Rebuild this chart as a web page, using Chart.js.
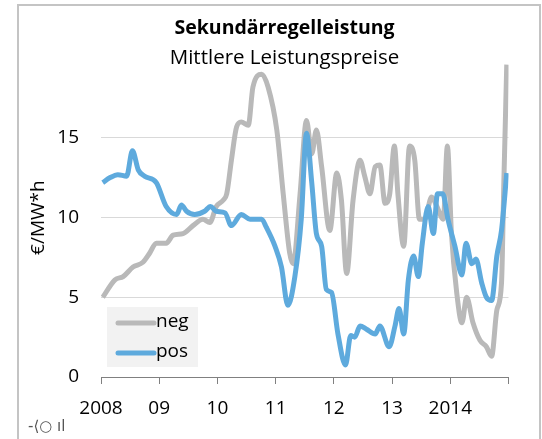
<!DOCTYPE html>
<html>
<head>
<meta charset="utf-8">
<script src="https://cdn.jsdelivr.net/npm/chart.js@4"></script>
<style>
  html, body { margin: 0; padding: 0; background: #fff; }
  #wrap { width: 542px; height: 439px; }
</style>
</head>
<body>
<div id="wrap"><canvas id="chart" width="542" height="439"></canvas></div>
<script>
// Daten
const jahrLabels = ["2008", "09", "10", "11", "12", "13", "2014", ""];

const negZeit = [2008.03, 2008.24, 2008.38, 2008.55, 2008.72, 2008.84, 2008.95, 2009.12, 2009.24, 2009.41,
  2009.58, 2009.75, 2009.87, 2009.98, 2010.10, 2010.16, 2010.24, 2010.33, 2010.41, 2010.53,
  2010.61, 2010.76, 2010.87, 2011.02, 2011.13, 2011.24, 2011.30, 2011.42, 2011.53, 2011.62,
  2011.70, 2011.79, 2011.93, 2012.05, 2012.13, 2012.22, 2012.33, 2012.45, 2012.53, 2012.62,
  2012.71, 2012.79, 2012.88, 2012.96, 2013.04, 2013.10, 2013.20, 2013.30, 2013.39, 2013.47,
  2013.56, 2013.68, 2013.77, 2013.88, 2013.95, 2014.02, 2014.11, 2014.20, 2014.28, 2014.39,
  2014.51, 2014.62, 2014.71, 2014.80, 2014.88, 2014.92, 2014.97];
const negWerte = [5.0, 6.1, 6.3, 6.9, 7.2, 7.8, 8.4, 8.4, 8.9, 9.0,
  9.5, 9.9, 9.7, 10.7, 11.1, 11.5, 13.6, 15.7, 16.0, 15.8,
  18.2, 19.0, 18.2, 15.5, 11.5, 7.8, 7.1, 11.5, 16.1, 14.0,
  15.5, 13.2, 9.2, 12.8, 11.1, 6.5, 11.1, 13.6, 12.6, 11.5,
  13.2, 13.3, 10.9, 11.5, 14.5, 11.5, 8.2, 14.5, 13.6, 9.9,
  9.9, 11.3, 10.7, 9.9, 14.5, 9.0, 5.3, 3.4, 5.0, 3.4,
  2.3, 1.9, 1.3, 4.2, 5.9, 12.2, 19.6];

const posZeit = [2008.03, 2008.15, 2008.29, 2008.44, 2008.54, 2008.64, 2008.75, 2008.95, 2009.12, 2009.30,
  2009.38, 2009.47, 2009.61, 2009.78, 2009.88, 2009.98, 2010.13, 2010.24, 2010.41, 2010.56,
  2010.76, 2010.84, 2010.99, 2011.10, 2011.21, 2011.33, 2011.44, 2011.53, 2011.62, 2011.70,
  2011.79, 2011.87, 2011.96, 2012.07, 2012.20, 2012.29, 2012.36, 2012.45, 2012.56, 2012.71,
  2012.79, 2012.95, 2013.05, 2013.12, 2013.20, 2013.28, 2013.37, 2013.45, 2013.52, 2013.62,
  2013.71, 2013.78, 2013.87, 2013.96, 2014.08, 2014.20, 2014.27, 2014.37, 2014.44, 2014.54,
  2014.62, 2014.71, 2014.80, 2014.88, 2014.97];
const posWerte = [12.2, 12.5, 12.7, 12.6, 14.2, 13.0, 12.6, 12.2, 10.7, 10.2,
  10.8, 10.4, 10.2, 10.4, 10.7, 10.4, 10.3, 9.5, 10.2, 9.9,
  9.9, 9.4, 8.2, 6.9, 4.5, 6.3, 9.9, 15.3, 12.2, 9.0,
  8.2, 5.5, 5.3, 2.7, 0.75, 2.6, 2.5, 3.2, 3.0, 2.7,
  3.2, 1.9, 3.2, 4.3, 2.7, 6.1, 7.6, 6.3, 8.4, 10.7,
  9.0, 11.5, 11.5, 9.9, 8.2, 6.4, 8.4, 7.1, 7.4, 5.9,
  5.0, 4.8, 7.6, 9.2, 12.8];

const schrift = "'Open Sans', 'Noto Sans', sans-serif";
const grau = "#b9b9b9";
const blau = "#5eaadd";

function punkte(zeit, werte) {
  return zeit.map((x, i) => ({ x: x, y: werte[i] }));
}

// Rahmen, Legende und kleines Symbol unten links
const extras = {
  id: "extras",
  afterDraw(chart) {
    const ctx = chart.ctx;
    ctx.save();
    // Rahmen
    ctx.strokeStyle = "#c4c4c4";
    ctx.lineWidth = 2;
    ctx.beginPath();
    ctx.moveTo(18, 439);
    ctx.lineTo(18, 5);
    ctx.lineTo(540, 5);
    ctx.lineTo(540, 439);
    ctx.stroke();

    // Legende
    ctx.fillStyle = "#f2f2f2";
    ctx.fillRect(107, 307, 91, 60);
    chart.data.datasets.forEach((ds, i) => {
      const y = 323 + i * 30;
      ctx.strokeStyle = ds.borderColor;
      ctx.lineWidth = 5;
      ctx.lineCap = "round";
      ctx.beginPath();
      ctx.moveTo(118, y);
      ctx.lineTo(154, y);
      ctx.stroke();
      ctx.fillStyle = "#000";
      ctx.font = "19px " + schrift;
      ctx.textBaseline = "middle";
      ctx.textAlign = "left";
      ctx.fillText(ds.label, 156, y - 1);
    });

    ctx.fillStyle = "#555";
    ctx.font = "15px 'DejaVu Sans', sans-serif";
    ctx.textBaseline = "middle";
    ctx.fillText("-⟨○ ıl", 28, 427);
    ctx.restore();
  }
};

const ctx = document.getElementById("chart").getContext("2d");
new Chart(ctx, {
  type: "line",
  data: {
    datasets: [
      {
        label: "neg",
        data: punkte(negZeit, negWerte),
        borderColor: grau,
        backgroundColor: grau,
        borderWidth: 5,
        pointRadius: 0,
        cubicInterpolationMode: "monotone",
        order: 1,
      },
      {
        label: "pos",
        data: punkte(posZeit, posWerte),
        borderColor: blau,
        backgroundColor: blau,
        borderWidth: 5,
        pointRadius: 0,
        cubicInterpolationMode: "monotone",
        order: 0,
      },
    ],
  },
  options: {
    responsive: false,
    animation: false,
    layout: { padding: { left: 27, right: 0, top: 0, bottom: 0 } },
    plugins: {
      legend: { display: false },
      tooltip: { enabled: false },
      title: {
        display: true,
        text: "Sekundärregelleistung",
        color: "#000",
        font: { family: schrift, size: 19.5, weight: "bold" },
        padding: { top: 17, bottom: 5 },
      },
      subtitle: {
        display: true,
        text: "Mittlere Leistungspreise",
        color: "#000",
        font: { family: schrift, size: 20.5 },
        padding: { top: 0, bottom: -11.7 },
      },
    },
    scales: {
      x: {
        type: "linear",
        min: 2008,
        max: 2015,
        afterFit: (s) => { s.height = 62; s.paddingRight = 33.5; },
        ticks: {
          stepSize: 1,
          color: "#000",
          padding: 13,
          maxRotation: 0,
          autoSkip: false,
          font: { family: schrift, size: 19 },
          callback: (v) => jahrLabels[Math.round(v - 2008)],
        },
        grid: { drawOnChartArea: false, drawTicks: true, tickLength: 7, color: "#808080" },
        border: { display: true, color: "#808080", width: 1 },
      },
      y: {
        min: 0,
        max: 20,
        afterFit: (s) => { s.width = 74; },
        ticks: {
          stepSize: 5,
          color: "#000",
          padding: 22,
          font: { family: schrift, size: 19 },
          callback: (v) => (v === 20 ? "" : v),
        },
        grid: {
          drawTicks: false,
          color: (c) => (c.tick && c.tick.value === 20 ? "rgba(0,0,0,0)" : "#d9d9d9"),
        },
        border: { display: false },
        title: {
          display: true,
          text: "€/MW*h",
          color: "#000",
          font: { family: schrift, size: 19 },
          padding: { top: 0, bottom: 0 },
        },
      },
    },
  },
  plugins: [extras],
});
</script>
</body>
</html>
